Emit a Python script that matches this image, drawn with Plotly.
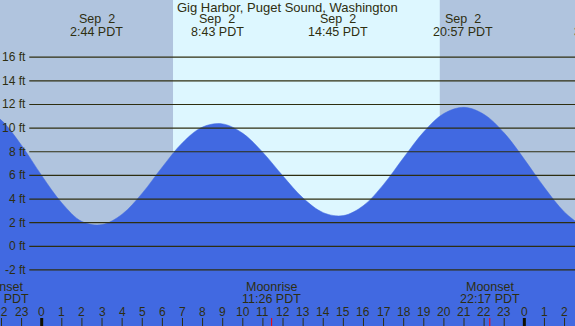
import plotly.graph_objects as go

# ---------------- data ----------------
title = "Gig Harbor, Puget Sound, Washington"

# tide height (ft), hourly, hours relative to Sep 2 00:00 PDT
tide_hours = list(range(-3, 28))
tide_ft = [11.79, 10.66, 8.54, 5.99, 3.67, 2.10, 1.84, 2.72, 4.50, 6.72, 8.77,
           10.10, 10.36, 9.56, 7.94, 5.94, 4.08, 2.85, 2.60, 3.45, 5.24, 7.51,
           9.69, 11.24, 11.76, 11.16, 9.59, 7.37, 4.97, 2.89, 1.56]

# high / low tide events (hour, date label, time label)
event_hours = [2.733, 8.717, 14.75, 20.95, 27.77]
event_dates = ["Sep\u00a0 2", "Sep\u00a0 2", "Sep\u00a0 2", "Sep\u00a0 2", "Sep\u00a0 3"]
event_times = ["2:44 PDT", "8:43 PDT", "14:45 PDT", "20:57 PDT", "3:46 PDT"]

# sun
sunrise_hour = 6.53
sunset_hour = 19.8

# moon events
moon_hours = [-2.12, 11.433, 22.283]
moon_names = ["Moonset", "Moonrise", "Moonset"]
moon_times = ["21:53 PDT", "11:26 PDT", "22:17 PDT"]

# hour ticks
hour_ticks = list(range(-2, 27))
hour_labels = ["22", "23", "0", "1", "2", "3", "4", "5", "6", "7", "8", "9", "10",
               "11", "12", "13", "14", "15", "16", "17", "18", "19", "20", "21",
               "22", "23", "0", "1", "2"]
midnight_hours = [0, 24]

# height gridlines
height_ticks = [-2, 0, 2, 4, 6, 8, 10, 12, 14, 16]
height_labels = ["-2 ft", "0 ft", "2 ft", "4 ft", "6 ft", "8 ft", "10 ft",
                 "12 ft", "14 ft", "16 ft"]

# ---------------- style / layout ----------------
W, H = 575, 326
X_RANGE = [-2.0736, 26.519]
Y_RANGE = [-6.74, 20.84]
NIGHT = "#B0C4DE"
DAY = "#DDF7FF"
WATER = "#4169E1"
INK = "#2e2e10"
FONT = "Liberation Sans, Arial, sans-serif"


def hx(h):
    return (h - X_RANGE[0]) / (X_RANGE[1] - X_RANGE[0])


def py(pix):
    return 1 - pix / H


fig = go.Figure()

# baseline for filling down to the bottom of the chart
fig.add_trace(go.Scatter(x=[tide_hours[0], tide_hours[-1]], y=[Y_RANGE[0] - 1] * 2,
                         mode="lines", line=dict(width=0, color=WATER),
                         hoverinfo="skip", showlegend=False))
fig.add_trace(go.Scatter(x=tide_hours, y=tide_ft, mode="lines",
                         line=dict(width=0.5, color=WATER, shape="spline", smoothing=1.0),
                         fill="tonexty", fillcolor=WATER,
                         hoverinfo="skip", showlegend=False))

shapes = []
# night / day background
shapes.append(dict(type="rect", xref="x", yref="paper", x0=X_RANGE[0] - 1, x1=sunrise_hour,
                   y0=0, y1=1, fillcolor=NIGHT, line=dict(width=0), layer="below"))
shapes.append(dict(type="rect", xref="x", yref="paper", x0=sunrise_hour, x1=sunset_hour,
                   y0=0, y1=1, fillcolor=DAY, line=dict(width=0), layer="below"))
shapes.append(dict(type="rect", xref="x", yref="paper", x0=sunset_hour, x1=X_RANGE[1] + 1,
                   y0=0, y1=1, fillcolor=NIGHT, line=dict(width=0), layer="below"))

# horizontal gridlines
for v in height_ticks:
    shapes.append(dict(type="line", xref="paper", yref="y", x0=29.3 / W, x1=1,
                       y0=v, y1=v, line=dict(color=INK, width=1.2), layer="above"))

# hour tick marks
for h in hour_ticks:
    if h in midnight_hours:
        continue
    shapes.append(dict(type="line", xref="x", yref="paper", x0=h, x1=h,
                       y0=0, y1=py(318), line=dict(color=INK, width=1), layer="above"))
for h in midnight_hours:
    shapes.append(dict(type="line", xref="x", yref="paper", x0=h, x1=h,
                       y0=0, y1=py(318), line=dict(color="#111100", width=3), layer="above"))
for h in moon_hours:
    shapes.append(dict(type="line", xref="x", yref="paper", x0=h, x1=h,
                       y0=0, y1=py(318), line=dict(color="#FF0000", width=1), layer="above"))

annotations = []
font = dict(family=FONT, size=12, color=INK)

annotations.append(dict(text=title, xref="paper", yref="paper", x=287 / W, y=py(7.5),
                        xanchor="center", yanchor="middle", showarrow=False,
                        font=dict(family=FONT, size=13, color=INK)))

for h, d, t in zip(event_hours, event_dates, event_times):
    annotations.append(dict(text=d, xref="paper", yref="paper", x=hx(h), y=py(19.5),
                            xanchor="center", yanchor="middle", showarrow=False,
                            font=dict(family=FONT, size=12.5, color=INK)))
    annotations.append(dict(text=t, xref="paper", yref="paper", x=hx(h), y=py(31.5),
                            xanchor="center", yanchor="middle", showarrow=False,
                            font=dict(family=FONT, size=12.5, color=INK)))

for h, n, t in zip(moon_hours, moon_names, moon_times):
    annotations.append(dict(text=n, xref="paper", yref="paper", x=hx(h), y=py(286.7),
                            xanchor="center", yanchor="middle", showarrow=False,
                            font=dict(family=FONT, size=12.5, color=INK)))
    annotations.append(dict(text=t, xref="paper", yref="paper", x=hx(h), y=py(299.3),
                            xanchor="center", yanchor="middle", showarrow=False,
                            font=dict(family=FONT, size=12.5, color=INK)))

for h, lab in zip(hour_ticks, hour_labels):
    annotations.append(dict(text=lab, xref="paper", yref="paper", x=hx(h), y=py(311.5),
                            xanchor="center", yanchor="middle", showarrow=False, font=font))

for v, lab in zip(height_ticks, height_labels):
    annotations.append(dict(text=lab, xref="paper", yref="y", x=27.5 / W, y=v,
                            xanchor="right", yanchor="middle", showarrow=False, font=font))

fig.update_layout(
    width=W, height=H,
    margin=dict(l=0, r=0, t=0, b=0, pad=0),
    paper_bgcolor=NIGHT, plot_bgcolor=NIGHT,
    showlegend=False,
    shapes=shapes, annotations=annotations,
    xaxis=dict(range=X_RANGE, visible=False, fixedrange=True),
    yaxis=dict(range=Y_RANGE, visible=False, fixedrange=True),
)

fig.write_html("out.html", config=dict(displayModeBar=False, staticPlot=True))

# remove the default page margin so the chart fills the window exactly
with open("out.html", "r", encoding="utf-8") as f:
    html = f.read()
html = html.replace("<body>", '<body style="margin:0;padding:0;overflow:hidden">', 1)
html = html.replace("<head>", "<head><style>html,body{margin:0;padding:0;}</style>", 1)
with open("out.html", "w", encoding="utf-8") as f:
    f.write(html)
